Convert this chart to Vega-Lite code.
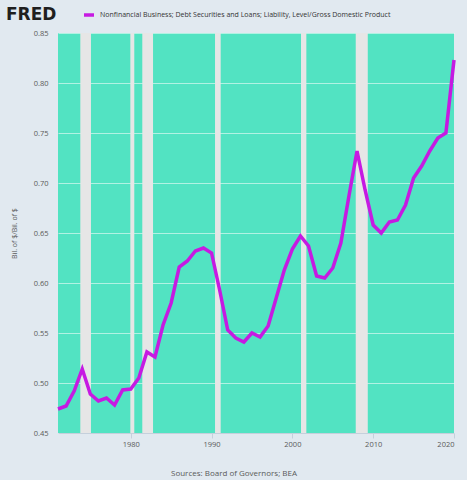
{
  "$schema": "https://vega.github.io/schema/vega-lite/v6.json",
  "width": 396,
  "height": 400,
  "autosize": {"type": "none"},
  "padding": {"left": 58, "top": 33, "right": 13, "bottom": 47},
  "background": "#e1e9f0",
  "title": {
    "text": "FRED",
    "anchor": "start",
    "frame": "group",
    "font": "DejaVu Sans",
    "fontSize": 17,
    "fontWeight": "bold",
    "color": "#1f1f1f",
    "dx": -52,
    "offset": 0,
    "dy": 16
  },
  "datasets": {
    "recessions": [
      {"start": 1973.76, "end": 1975.08},
      {"start": 1979.95, "end": 1980.44},
      {"start": 1981.43, "end": 1982.76},
      {"start": 1990.43, "end": 1991.13},
      {"start": 2001.07, "end": 2001.73},
      {"start": 2007.84, "end": 2009.33}
    ],
    "series": [
      {"year": 1971, "value": 0.474},
      {"year": 1972, "value": 0.477},
      {"year": 1973, "value": 0.492},
      {"year": 1974, "value": 0.514},
      {"year": 1975, "value": 0.489},
      {"year": 1976, "value": 0.482},
      {"year": 1977, "value": 0.485},
      {"year": 1978, "value": 0.478},
      {"year": 1979, "value": 0.493},
      {"year": 1980, "value": 0.494},
      {"year": 1981, "value": 0.505},
      {"year": 1982, "value": 0.531},
      {"year": 1983, "value": 0.526},
      {"year": 1984, "value": 0.558},
      {"year": 1985, "value": 0.580},
      {"year": 1986, "value": 0.616},
      {"year": 1987, "value": 0.622},
      {"year": 1988, "value": 0.632},
      {"year": 1989, "value": 0.635},
      {"year": 1990, "value": 0.630},
      {"year": 1991, "value": 0.593},
      {"year": 1992, "value": 0.553},
      {"year": 1993, "value": 0.545},
      {"year": 1994, "value": 0.541},
      {"year": 1995, "value": 0.550},
      {"year": 1996, "value": 0.546},
      {"year": 1997, "value": 0.557},
      {"year": 1998, "value": 0.585},
      {"year": 1999, "value": 0.613},
      {"year": 2000, "value": 0.634},
      {"year": 2001, "value": 0.647},
      {"year": 2002, "value": 0.637},
      {"year": 2003, "value": 0.607},
      {"year": 2004, "value": 0.605},
      {"year": 2005, "value": 0.615},
      {"year": 2006, "value": 0.640},
      {"year": 2007, "value": 0.687},
      {"year": 2008, "value": 0.732},
      {"year": 2009, "value": 0.693},
      {"year": 2010, "value": 0.658},
      {"year": 2011, "value": 0.650},
      {"year": 2012, "value": 0.661},
      {"year": 2013, "value": 0.663},
      {"year": 2014, "value": 0.678},
      {"year": 2015, "value": 0.705},
      {"year": 2016, "value": 0.717},
      {"year": 2017, "value": 0.732},
      {"year": 2018, "value": 0.745},
      {"year": 2019, "value": 0.750},
      {"year": 2020, "value": 0.823}
    ]
  },
  "layer": [
    {
      "data": {"name": "recessions"},
      "mark": {"type": "rect", "color": "#e6e6e6"},
      "encoding": {
        "x": {"field": "start", "type": "quantitative"},
        "x2": {"field": "end"}
      }
    },
    {
      "data": {"name": "series"},
      "mark": {"type": "line", "strokeWidth": 3.5},
      "encoding": {
        "x": {
          "field": "year",
          "type": "quantitative",
          "scale": {"domain": [1971, 2020], "nice": false, "zero": false},
          "axis": {
            "values": [1980, 1990, 2000, 2010, 2020],
            "format": "d",
            "grid": false,
            "ticks": true,
            "tickSize": 5,
            "tickColor": "#c5d0dc",
            "domain": true,
            "domainColor": "#c5d0dc",
            "labelPadding": 2,
            "title": "Sources: Board of Governors; BEA",
            "titleX": 175.5,
            "titleY": 40,
            "titleAlign": "center",
            "titleBaseline": "middle",
            "titleFontSize": 8,
            "titleFontWeight": "normal",
            "titleColor": "#595959"
          }
        },
        "y": {
          "field": "value",
          "type": "quantitative",
          "scale": {"domain": [0.45, 0.85], "nice": false, "zero": false},
          "axis": {
            "values": [0.45, 0.5, 0.55, 0.6, 0.65, 0.7, 0.75, 0.8, 0.85],
            "format": ".2f",
            "ticks": false,
            "domain": false,
            "labelPadding": 10,
            "grid": true,
            "gridColor": "#ffffff",
            "gridOpacity": 0.55,
            "gridWidth": 1,
            "title": "Bil. of $/Bil. of $",
            "titleX": -44,
            "titleBaseline": "middle",
            "titleFontSize": 7,
            "titleFontWeight": "normal",
            "titleColor": "#595959"
          }
        },
        "color": {
          "datum": "Nonfinancial Business; Debt Securities and Loans; Liability, Level/Gross Domestic Product",
          "scale": {"range": ["#c61ae2"]},
          "legend": {
            "orient": "none",
            "legendX": 24,
            "legendY": -25,
            "title": null,
            "padding": 0,
            "symbolType": "stroke",
            "symbolStrokeWidth": 3.5,
            "symbolSize": 100,
            "labelFontSize": 7,
            "labelColor": "#333333",
            "labelFont": "Open Sans",
            "labelLimit": 400
          }
        }
      }
    }
  ],
  "config": {
    "view": {"fill": "#52e3c2", "stroke": null},
    "font": "Open Sans",
    "axis": {
      "labelFont": "Open Sans",
      "labelFontSize": 7.5,
      "labelColor": "#595959",
      "titleFont": "Open Sans"
    }
  }
}
